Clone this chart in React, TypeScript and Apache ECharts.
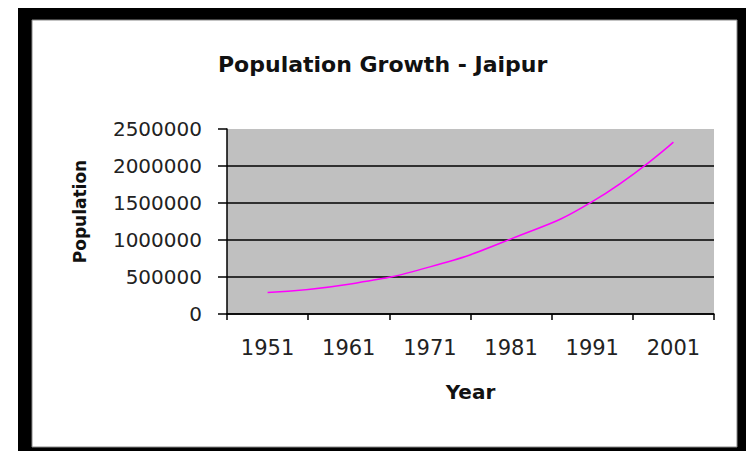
import React, { useEffect, useRef } from "react";
import * as echarts from "echarts";

const years = ["1951", "1961", "1971", "1981", "1991", "2001"];
const population = [291130, 403444, 636768, 1015160, 1518235, 2322575];
const titleText = "Population Growth - Jaipur";
const xName = "Year";
const yName = "Population";

export default function App() {
  const ref = useRef<HTMLDivElement>(null);
  useEffect(() => {
    if (!ref.current) return;
    const chart = echarts.init(ref.current, null, { renderer: "svg" });
    const font = "DejaVu Sans";
    chart.setOption({
      animation: false,
      backgroundColor: "#fff",
      graphic: [
        { type: "rect", z: -10, silent: true, shape: { x: 18, y: 8, width: 740, height: 450 }, style: { fill: "#000" } },
        { type: "rect", z: -9, silent: true, shape: { x: 32, y: 20, width: 705, height: 427 }, style: { fill: "#fff", stroke: "#888", lineWidth: 1 } },
      ],
      title: {
        text: titleText,
        left: 213,
        top: 48,
        textStyle: { fontFamily: font, fontWeight: "bold", fontSize: 22, color: "#111" },
      },
      grid: {
        left: 227,
        right: 32,
        top: 129,
        bottom: 137,
        show: true,
        backgroundColor: "#c0c0c0",
        borderWidth: 0,
      },
      xAxis: {
        type: "category",
        data: years,
        boundaryGap: true,
        name: xName,
        nameLocation: "middle",
        nameGap: 68,
        nameTextStyle: { fontFamily: font, fontWeight: "bold", fontSize: 20, color: "#111" },
        axisLine: { show: true, lineStyle: { color: "#000", width: 1.5 } },
        axisTick: { show: true, alignWithLabel: false, length: 6, lineStyle: { color: "#000", width: 1.5 } },
        axisLabel: { fontFamily: font, fontSize: 21, color: "#222", margin: 23, interval: 0 },
        splitLine: { show: false },
      },
      yAxis: {
        type: "value",
        min: 0,
        max: 2500000,
        interval: 500000,
        name: yName,
        nameLocation: "middle",
        nameGap: 139,
        nameRotate: 90,
        nameTextStyle: { fontFamily: font, fontWeight: "bold", fontSize: 17, color: "#111", padding: [0, 0, 0, 20] },
        axisLine: { show: true, lineStyle: { color: "#000", width: 1.5 } },
        axisTick: { show: true, inside: false, length: 9, lineStyle: { color: "#000", width: 1.5 } },
        axisLabel: { fontFamily: font, fontSize: 20, color: "#222", margin: 25, formatter: (v: number) => String(v) },
        splitLine: { show: true, showMaxLine: false, lineStyle: { color: "#000", width: 1.5 } },
      },
      series: [
        {
          type: "line",
          data: population,
          smooth: true,
          showSymbol: false,
          lineStyle: { color: "#ff00ff", width: 1.5 },
          itemStyle: { color: "#ff00ff" },
        },
      ],
    });
    return () => chart.dispose();
  }, []);
  return (
    <div
      ref={ref}
      style={{ position: "absolute", left: 0, top: 0, width: 746, height: 451 }}
    />
  );
}
